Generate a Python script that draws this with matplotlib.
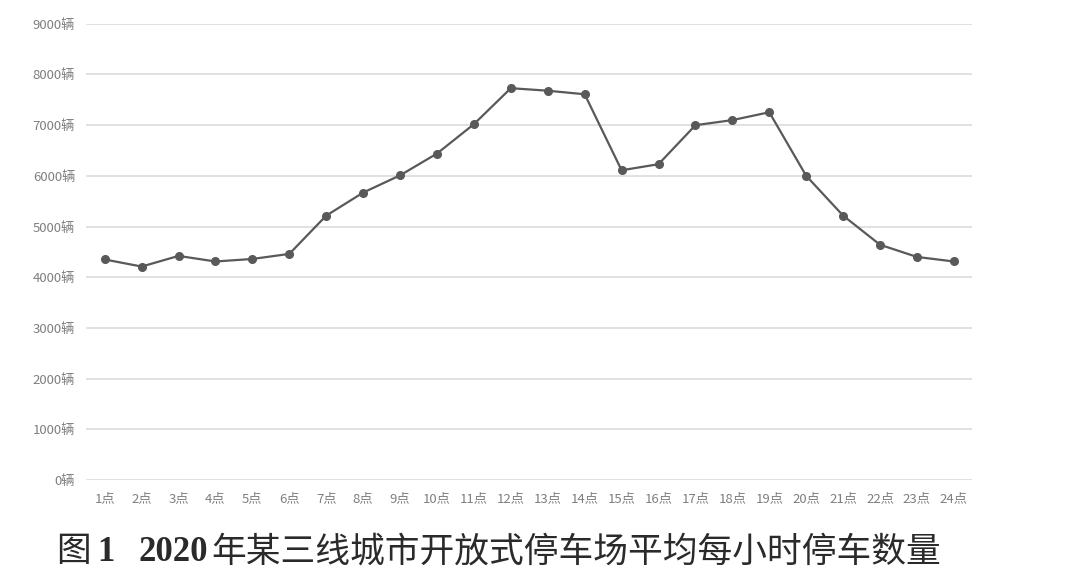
import matplotlib.pyplot as plt

plt.rcParams['font.family'] = ['Noto Sans CJK SC', 'DejaVu Sans']

hours = [f"{h}点" for h in range(1, 25)]
cars = [4350, 4210, 4420, 4310, 4360, 4460, 5215, 5670, 6010, 6440, 7020, 7730,
        7680, 7610, 6110, 6230, 7000, 7100, 7255, 6000, 5215, 4640, 4400, 4310]
yticks = list(range(0, 10000, 1000))
ylabels = [f"{v}辆" for v in yticks]
# caption pieces: (text, is_digit_part, gap before in px)
caption_parts = [("图", False, 0), ("1", True, 7), ("2020", True, 24),
                 ("年某三线城市开放式停车场平均每小时停车数量", False, 3)]

fig = plt.figure(figsize=(10.65, 5.81), dpi=100)
ax = fig.add_axes([0.081, 0.174, 0.832, 0.785])

x = list(range(1, 25))
ax.plot(x, cars, color='#595959', linewidth=1.6, marker='o', markersize=5.5,
        markerfacecolor='#595959', markeredgecolor='#595959', zorder=3)

ax.set_xlim(0.5, 24.5)
ax.set_ylim(0, 9000)
ax.set_yticks(yticks)
ax.set_yticklabels(ylabels)
ax.set_xticks(x)
ax.set_xticklabels(hours)
ax.grid(axis='y', color='#dcdcdc', linewidth=1.2)
ax.set_axisbelow(True)
for s in ax.spines.values():
    s.set_visible(False)
ax.tick_params(axis='both', length=0, labelsize=9.5, labelcolor='#7f7f7f')
ax.tick_params(axis='y', pad=8)
ax.tick_params(axis='x', pad=9)

# caption drawn piece by piece (serif bold digits, CJK characters)
renderer = fig.canvas.get_renderer()
xpos = 56
W = fig.bbox.width
for txt, digit, gap in caption_parts:
    xpos += gap
    if digit:
        t = fig.text(xpos / W, 0.034, txt, ha='left', va='baseline', fontsize=25,
                     fontweight='bold', color='#2a2a2a', family='Liberation Serif')
    else:
        t = fig.text(xpos / W, 0.034, txt, ha='left', va='baseline', fontsize=25,
                     fontweight='medium', color='#2a2a2a', family='Noto Sans CJK SC')
    xpos = t.get_window_extent(renderer).x1

fig.savefig('out.png', dpi=100)
